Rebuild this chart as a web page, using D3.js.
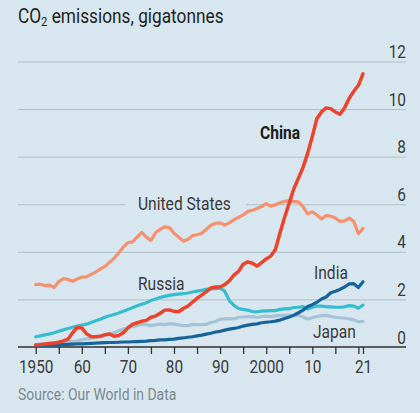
<!DOCTYPE html>
<html><head><meta charset="utf-8">
<script src="https://cdn.jsdelivr.net/npm/d3@7"></script>
<style>html,body{margin:0;padding:0;background:#d8e7ef;}svg{display:block;}</style>
</head><body>
<svg id="chart" width="420" height="413"></svg>
<script>
const years = d3.range(1950, 2022);
const china = [0.08,0.10,0.13,0.15,0.17,0.20,0.26,0.33,0.60,0.82,0.80,0.56,0.44,0.43,0.45,0.52,0.55,0.45,0.48,0.60,
0.80,0.95,1.02,1.08,1.12,1.25,1.30,1.42,1.55,1.56,1.50,1.48,1.62,1.72,1.88,2.05,2.18,2.33,2.48,2.52,
2.52,2.62,2.78,3.02,3.18,3.48,3.58,3.52,3.40,3.55,3.70,3.82,4.10,4.80,5.45,6.05,6.65,7.10,7.55,8.15,
8.85,9.60,9.88,10.05,10.02,9.88,9.78,10.05,10.45,10.75,11.00,11.48];
const unitedStates = [2.62,2.64,2.58,2.60,2.50,2.75,2.88,2.84,2.76,2.86,2.94,2.95,3.05,3.15,3.28,3.38,3.56,3.72,3.95,4.20,
4.38,4.42,4.62,4.82,4.62,4.48,4.80,4.95,5.05,5.02,4.78,4.62,4.45,4.52,4.68,4.72,4.78,4.95,5.12,5.20,
5.22,5.12,5.22,5.35,5.45,5.55,5.70,5.75,5.82,5.90,6.03,5.92,5.98,6.06,6.12,6.15,6.12,6.10,5.90,5.60,
5.68,5.55,5.38,5.52,5.50,5.42,5.28,5.30,5.42,5.28,4.76,4.98];
const russia = [0.43,0.47,0.51,0.55,0.60,0.66,0.72,0.78,0.83,0.88,0.92,0.96,1.03,1.10,1.17,1.25,1.31,1.37,1.43,1.50,
1.58,1.65,1.73,1.80,1.86,1.95,2.02,2.08,2.13,2.17,2.20,2.22,2.24,2.27,2.31,2.35,2.38,2.42,2.44,2.45,
2.47,2.35,1.95,1.75,1.62,1.58,1.55,1.49,1.48,1.51,1.52,1.53,1.53,1.58,1.60,1.61,1.66,1.67,1.70,1.60,
1.67,1.72,1.72,1.69,1.69,1.67,1.67,1.69,1.74,1.72,1.63,1.76];
const japan = [0.10,0.12,0.13,0.15,0.16,0.17,0.20,0.23,0.23,0.26,0.30,0.34,0.36,0.40,0.44,0.47,0.52,0.60,0.68,0.76,
0.82,0.85,0.90,0.96,0.94,0.90,0.93,0.96,0.94,0.98,0.96,0.93,0.90,0.90,0.95,0.94,0.94,0.95,1.03,1.07,
1.16,1.18,1.19,1.18,1.25,1.26,1.28,1.28,1.24,1.28,1.30,1.28,1.31,1.33,1.33,1.33,1.31,1.34,1.26,1.18,
1.24,1.28,1.32,1.33,1.29,1.25,1.23,1.22,1.18,1.14,1.06,1.08];
const india = [0.07,0.07,0.08,0.08,0.09,0.09,0.10,0.11,0.12,0.13,0.13,0.14,0.15,0.16,0.17,0.18,0.19,0.19,0.20,0.21,
0.21,0.22,0.23,0.24,0.25,0.27,0.28,0.30,0.30,0.32,0.33,0.36,0.38,0.41,0.43,0.47,0.50,0.54,0.58,0.63,
0.66,0.71,0.75,0.78,0.82,0.88,0.92,0.95,0.97,1.02,1.04,1.06,1.09,1.13,1.20,1.26,1.34,1.44,1.55,1.70,
1.78,1.88,2.02,2.10,2.28,2.34,2.42,2.52,2.65,2.66,2.50,2.74];

const xTicks = [1950,1955,1960,1965,1970,1975,1980,1985,1990,1995,2000,2005,2010,2015,2020,2021];
const xTickLabels = {1950:"1950",1960:"60",1970:"70",1980:"80",1990:"90",2000:"2000",2010:"10",2021:"21"};
const yTicks = [0,2,4,6,8,10,12];

const series = [
  {name:"Japan", values:japan, color:"#a6c3d5", width:3.2, label:"Japan", lx:313, ly:337.5, bold:false},
  {name:"Russia", values:russia, color:"#34bccf", width:3.2, label:"Russia", lx:138, ly:290, bold:false},
  {name:"India", values:india, color:"#17649a", width:3.2, label:"India", lx:314, ly:278.5, bold:false},
  {name:"United States", values:unitedStates, color:"#f5916f", width:3.2, label:"United States", lx:138, ly:210, bold:false},
  {name:"China", values:china, color:"#ec442c", width:3.5, label:"China", lx:260, ly:138.5, bold:true}
];

function hasFont(name){
  const c = document.createElement("canvas").getContext("2d");
  const s = "abcdefghijklmnopqrstuvwxyz 0123456789";
  c.font = "40px monospace"; const a = c.measureText(s).width;
  c.font = "40px '" + name + "', monospace"; const b = c.measureText(s).width;
  return Math.abs(a-b) > 0.5;
}
const narrow = hasFont("Liberation Sans Narrow");
const FONT = narrow ? "'Liberation Sans Narrow', 'Liberation Sans', sans-serif" : "Roboto, sans-serif";
const SX = narrow ? 1 : 0.83;

const svg = d3.select("#chart");
const W = 420, H = 413;
svg.append("rect").attr("width", W).attr("height", H).attr("fill", "#d8e7ef");

const x = d3.scaleLinear().domain([1950, 2021]).range([35.7, 363]);
const y = d3.scaleLinear().domain([0, 12]).range([347, 61.5]);
const left = 18, right = 406;

function txt(g, tx, ty, str, size, color, anchor, weight){
  return g.append("text")
    .attr("transform", `translate(${tx},${ty}) scale(${SX},1)`)
    .attr("text-anchor", anchor || "start")
    .attr("font-family", FONT)
    .attr("font-size", size)
    .attr("font-weight", weight || "normal")
    .attr("fill", color)
    .text(str);
}

// gridlines
const grid = svg.append("g").attr("transform", `translate(${right},0)`)
  .call(d3.axisRight(y).tickValues(yTicks.filter(v => v > 0)).tickSize(-(right-left)).tickFormat(""));
grid.select(".domain").remove();
grid.selectAll(".tick line").attr("stroke", "#aebfc9").attr("stroke-width", 1);

// y labels
const ylab = svg.append("g");
yTicks.forEach(v => txt(ylab, right, y(v) - 3.5, String(v), 18.5, "#3a3a3a", "end"));

// label background for United States (interrupts gridline)
svg.append("rect").attr("x", 125).attr("y", y(6) - 3).attr("width", 121).attr("height", 6).attr("fill", "#d8e7ef");

// x axis
const xa = svg.append("g").attr("transform", `translate(0,${y(0)})`)
  .call(d3.axisBottom(x).tickValues(xTicks).tickSize(7).tickFormat(d => xTickLabels[d] || ""));
xa.select(".domain").remove();
xa.selectAll(".tick line").attr("stroke", "#333").attr("stroke-width", 1.3);
xa.selectAll(".tick text")
  .attr("y", 26).attr("dy", 0)
  .attr("font-family", FONT).attr("font-size", 18.5).attr("fill", "#3a3a3a")
  .attr("transform", `scale(${SX},1)`);
svg.append("line").attr("x1", left).attr("x2", right).attr("y1", y(0)).attr("y2", y(0))
  .attr("stroke", "#2e2e2e").attr("stroke-width", 1.6);

// lines
const line = d3.line().x((d, i) => x(years[i])).y(d => y(d)).curve(d3.curveLinear);
svg.append("g").selectAll("path").data(series).join("path")
  .attr("d", d => line(d.values))
  .attr("fill", "none")
  .attr("stroke", d => d.color)
  .attr("stroke-width", d => d.width)
  .attr("stroke-linejoin", "round")
  .attr("stroke-linecap", "round");

// series labels
const lab = svg.append("g");
series.forEach(s => txt(lab, s.lx, s.ly, s.label, 18.8, s.bold ? "#1c1c1c" : "#3a3a3a", "start", s.bold ? "bold" : "normal"));

// title
const t = svg.append("text")
  .attr("transform", `translate(18,22.5) scale(${SX},1)`)
  .attr("font-family", FONT).attr("font-size", 20.8).attr("fill", "#1e1e1e");
t.append("tspan").text("CO");
t.append("tspan").attr("font-size", 13.5).attr("dy", 3).text("2");
t.append("tspan").attr("dy", -3).text(" emissions, gigatonnes");

// source
txt(svg, 18, 400, "Source: Our World in Data", 16.8, "#7b878e", "start");
</script>
</body></html>
